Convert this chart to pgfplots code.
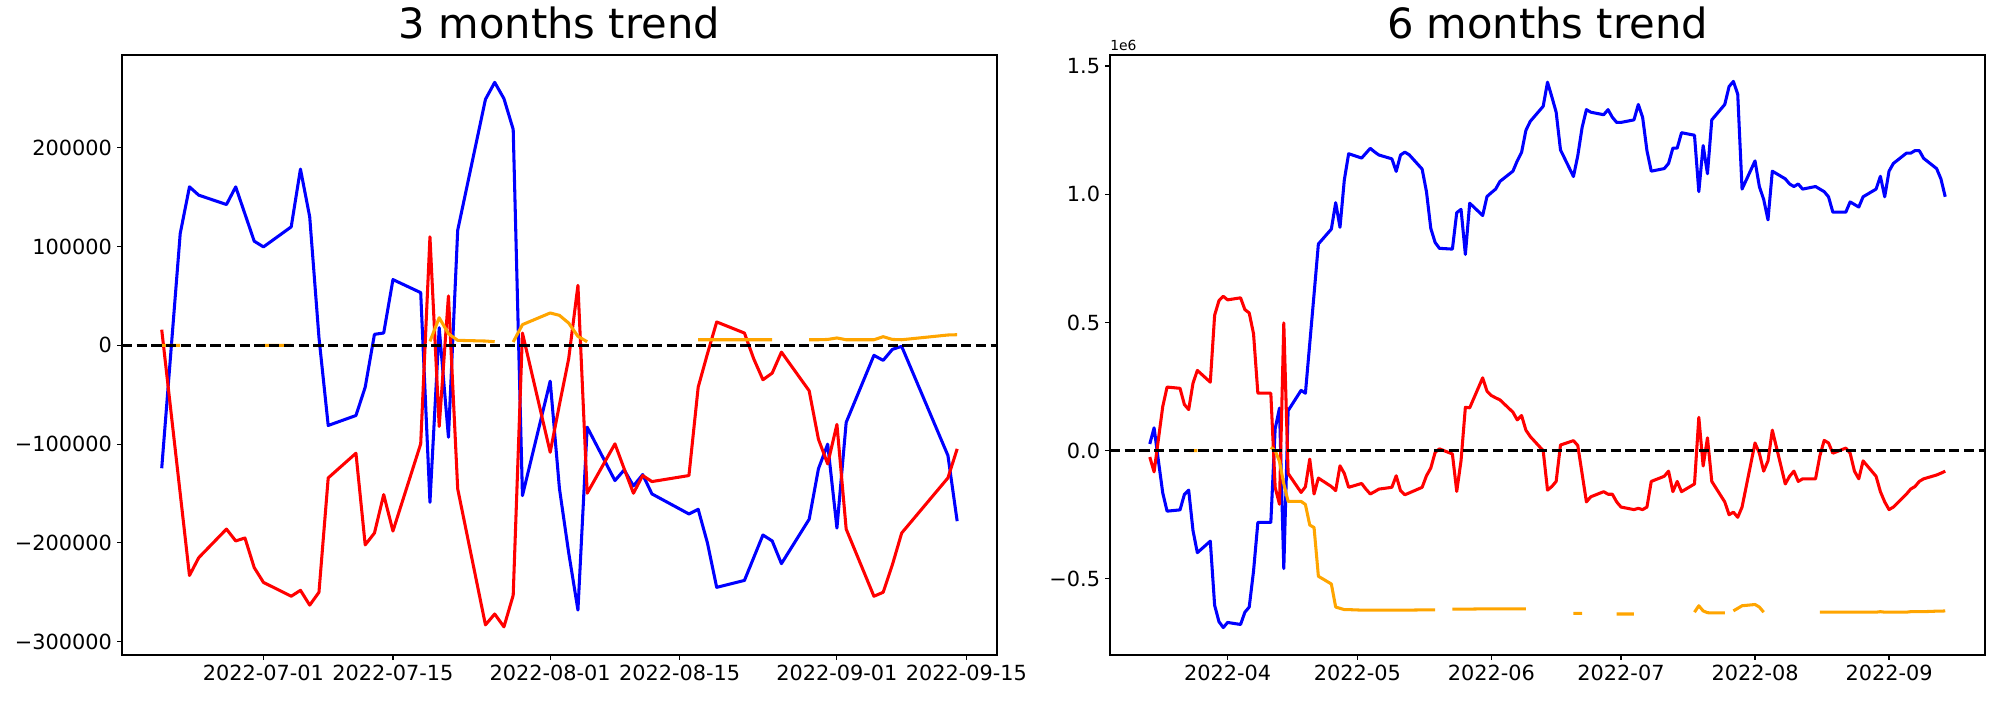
\documentclass[border=0pt]{standalone}
\usepackage{pgfplots}
\pgfplotsset{compat=1.18}
\usepackage{pgfplotstable}
\usepackage{fontspec}
\setmainfont{DejaVu Sans}
\definecolor{mplorange}{RGB}{255,165,0}

% left: x = days since 2022-07-01
\pgfplotstableread{
d B R O
-11 -124400 15900 0
-9 113200 -150000 0
-8 160500 -233000 nan
-7 152100 -215000 nan
-4 142600 -186000 nan
-3 160500 -198000 nan
-2 133000 -195000 nan
-1 105500 -225000 nan
0 99700 -240000 0
3 120000 -254000 0
4 178500 -248000 nan
5 130100 -263000 nan
6 8000 -250000 nan
7 -81100 -134200 nan
10 -71000 -109200 nan
11 -42300 -202000 nan
12 11200 -190000 nan
13 12500 -151100 nan
14 66600 -188000 nan
17 53400 -99700 nan
18 -158900 109900 4000
19 17900 -82100 28000
20 -93000 50000 11800
21 116600 -145300 5100
24 249100 -283000 4400
25 266300 -272000 3700
26 249800 -285000 nan
27 218700 -253000 3400
28 -152100 12500 21000
31 -36200 -108200 32800
32 -145000 -60000 30400
33 -210000 -13500 22600
34 -268000 60800 9100
35 -82800 -149700 3700
38 -136900 -99700 nan
39 -126100 -125000 nan
40 -142300 -149700 nan
41 -130800 -131800 nan
42 -150400 -137900 nan
46 -170700 -131800 nan
47 -166000 -42300 5700
48 -200000 -8500 5700
49 -245000 23700 5700
52 -238000 12500 5700
53 -215000 -13500 5700
54 -192000 -34800 5700
55 -198000 -28100 5700
56 -221000 -6800 nan
59 -176000 -46000 5700
60 -125000 -95000 5700
61 -100000 -120000 6000
62 -185000 -80000 7500
63 -78000 -186000 5700
66 -10100 -254000 5700
67 -15200 -250000 8800
68 -4000 -222000 6000
69 -1000 -190000 5700
74 -111500 -134200 10500
75 -178000 -104800 10800
}\leftdata

% right: x = days since 2022-04-01, values in 1e6
\pgfplotstableread{
D B R O
-18 0.026 -0.025 nan
-17 0.089 -0.083 nan
-16 -0.040 0.045 nan
-15 -0.165 0.172 nan
-14 -0.236 0.248 nan
-11 -0.231 0.243 nan
-10 -0.171 0.180 nan
-9 -0.154 0.160 0.000
-8 -0.312 0.263 0.000
-7 -0.398 0.313 0.000
-4 -0.353 0.267 nan
-3 -0.603 0.528 nan
-2 -0.667 0.585 nan
-1 -0.690 0.602 nan
0 -0.670 0.588 nan
3 -0.678 0.596 nan
4 -0.630 0.550 nan
5 -0.610 0.537 nan
6 -0.470 0.456 nan
7 -0.280 0.224 nan
10 -0.280 0.224 0.013
11 0.085 -0.143 0.000
12 0.166 -0.209 -0.042
13 -0.460 0.498 -0.130
14 0.156 -0.089 -0.198
17 0.235 -0.163 -0.198
18 0.224 -0.141 -0.210
19 0.417 -0.033 -0.290
20 0.610 -0.169 -0.300
21 0.806 -0.107 -0.490
24 0.864 -0.140 -0.520
25 0.967 -0.156 -0.610
26 0.871 -0.059 -0.615
27 1.056 -0.089 -0.620
28 1.158 -0.143 -0.620
31 1.141 -0.128 -0.622
32 1.160 -0.150 -0.622
33 1.179 -0.169 -0.622
34 1.165 -0.160 -0.622
35 1.153 -0.150 -0.622
38 1.138 -0.143 -0.622
39 1.089 -0.098 -0.622
40 1.153 -0.156 -0.622
41 1.164 -0.172 -0.622
42 1.154 -0.165 -0.622
45 1.098 -0.143 -0.621
46 1.010 -0.098 -0.621
47 0.867 -0.068 -0.621
48 0.812 -0.007 -0.621
49 0.789 0.007 nan
52 0.786 -0.013 -0.618
53 0.928 -0.159 -0.618
54 0.941 -0.039 -0.618
55 0.765 0.169 -0.618
56 0.965 0.167 -0.618
59 0.917 0.284 -0.617
60 0.991 0.232 -0.617
61 1.006 0.215 -0.617
62 1.020 0.206 -0.617
63 1.050 0.198 -0.617
66 1.090 0.150 -0.617
67 1.130 0.120 -0.617
68 1.163 0.137 -0.617
69 1.249 0.080 -0.617
70 1.284 0.055 nan
73 1.343 0.000 nan
74 1.437 -0.154 nan
75 1.380 -0.140 nan
76 1.320 -0.120 nan
77 1.173 0.022 nan
80 1.069 0.039 -0.635
81 1.150 0.020 -0.635
82 1.260 -0.090 -0.635
83 1.330 -0.200 nan
84 1.320 -0.180 nan
87 1.310 -0.160 nan
88 1.330 -0.170 nan
89 1.300 -0.170 nan
90 1.280 -0.200 -0.637
91 1.280 -0.220 -0.637
94 1.290 -0.230 -0.637
95 1.350 -0.225 nan
96 1.300 -0.230 nan
97 1.170 -0.220 nan
98 1.090 -0.120 nan
101 1.100 -0.100 nan
102 1.120 -0.080 nan
103 1.180 -0.160 nan
104 1.180 -0.120 nan
105 1.240 -0.160 nan
108 1.230 -0.130 -0.630
109 1.010 0.130 -0.605
110 1.190 -0.060 -0.625
111 1.080 0.050 -0.632
112 1.290 -0.120 -0.633
115 1.350 -0.200 -0.633
116 1.420 -0.250 nan
117 1.440 -0.240 -0.625
118 1.390 -0.260 -0.615
119 1.020 -0.220 -0.605
122 1.130 0.030 -0.600
123 1.030 -0.010 -0.610
124 0.980 -0.080 -0.630
125 0.900 -0.040 nan
126 1.090 0.080 nan
129 1.060 -0.130 nan
130 1.040 -0.100 nan
131 1.030 -0.080 nan
132 1.040 -0.120 nan
133 1.020 -0.110 nan
136 1.030 -0.110 nan
137 1.020 -0.020 -0.630
138 1.010 0.040 -0.630
139 0.990 0.030 -0.630
140 0.930 -0.010 -0.630
143 0.930 0.010 -0.630
144 0.970 -0.010 -0.630
145 0.960 -0.080 -0.630
146 0.950 -0.110 -0.630
147 0.990 -0.040 -0.630
150 1.020 -0.100 -0.630
151 1.070 -0.160 -0.628
152 0.990 -0.200 -0.630
153 1.090 -0.230 -0.630
154 1.120 -0.220 -0.630
157 1.160 -0.170 -0.630
158 1.160 -0.150 -0.628
159 1.170 -0.140 -0.628
160 1.170 -0.120 -0.628
161 1.140 -0.110 -0.628
164 1.100 -0.095 -0.626
165 1.060 -0.088 -0.626
166 0.990 -0.080 -0.625
}\rightdata

\pgfplotsset{
  mpl/.style={
    scale only axis, width=630pt, height=432pt, anchor=south west,
    axis line style={line width=0.8pt},
    tick style={line width=0.8pt, black},
    tick align=outside, major tick length=3.5pt,
    xtick pos=lower, ytick pos=left,
    scaled x ticks=false, scaled y ticks=false,
    ticklabel style={font=\fontsize{15}{18}\selectfont, inner sep=0pt},
    xticklabel style={anchor=north, yshift=-3.5pt},
    yticklabel style={anchor=east, xshift=-3.5pt},
    /pgf/number format/assume math mode=true,
    unbounded coords=jump,
    title style={font=\fontsize{30}{36}\selectfont, at={(0.5,1)}, anchor=base, yshift=6pt, inner sep=0pt},
    clip mode=individual,
  },
  ser/.style={line width=2.2pt, line join=round},
}

\begin{document}
\begin{tikzpicture}
\path[use as bounding box] (0,0) rectangle (1440pt,504pt);
\begin{axis}[mpl, at={(87.8pt,32.4pt)},
  title={3 months trend},
  xmin=-15.3, xmax=79.3, ymin=-313500, ymax=294000,
  xtick={0,14,31,45,62,76},
  xticklabels={2022-07-01,2022-07-15,2022-08-01,2022-08-15,2022-09-01,2022-09-15},
  ytick={-300000,-200000,-100000,0,100000,200000},
  yticklabels={−300000,−200000,−100000,0,100000,200000},
]
\addplot[ser, blue] table[x=d,y=B]{\leftdata};
\addplot[ser, red] table[x=d,y=R]{\leftdata};
\addplot[ser, mplorange] table[x=d,y=O]{\leftdata};
\addplot[black, line width=1.8pt, dash pattern=on 7.4pt off 3.2pt] coordinates {(-15.3,0) (79.3,0)};
\end{axis}
\begin{axis}[mpl, at={(799.2pt,32.4pt)},
  title={6 months trend},
  xmin=-27.2, xmax=175.2, ymin=-0.797, ymax=1.543,
  xtick={0,30,61,91,122,153},
  xticklabels={2022-04,2022-05,2022-06,2022-07,2022-08,2022-09},
  ytick={-0.5,0,0.5,1.0,1.5},
  yticklabels={−0.5,0.0,0.5,1.0,1.5},
  after end axis/.code={\node[anchor=south west, inner sep=0pt, font=\fontsize{10}{12}\selectfont] at (rel axis cs:0,1) [yshift=3pt] {1e6};},
]
\addplot[ser, blue] table[x=D,y=B]{\rightdata};
\addplot[ser, red] table[x=D,y=R]{\rightdata};
\addplot[ser, mplorange] table[x=D,y=O]{\rightdata};
\addplot[black, line width=1.8pt, dash pattern=on 7.4pt off 3.2pt] coordinates {(-27.2,0) (175.2,0)};
\end{axis}
\end{tikzpicture}
\end{document}
